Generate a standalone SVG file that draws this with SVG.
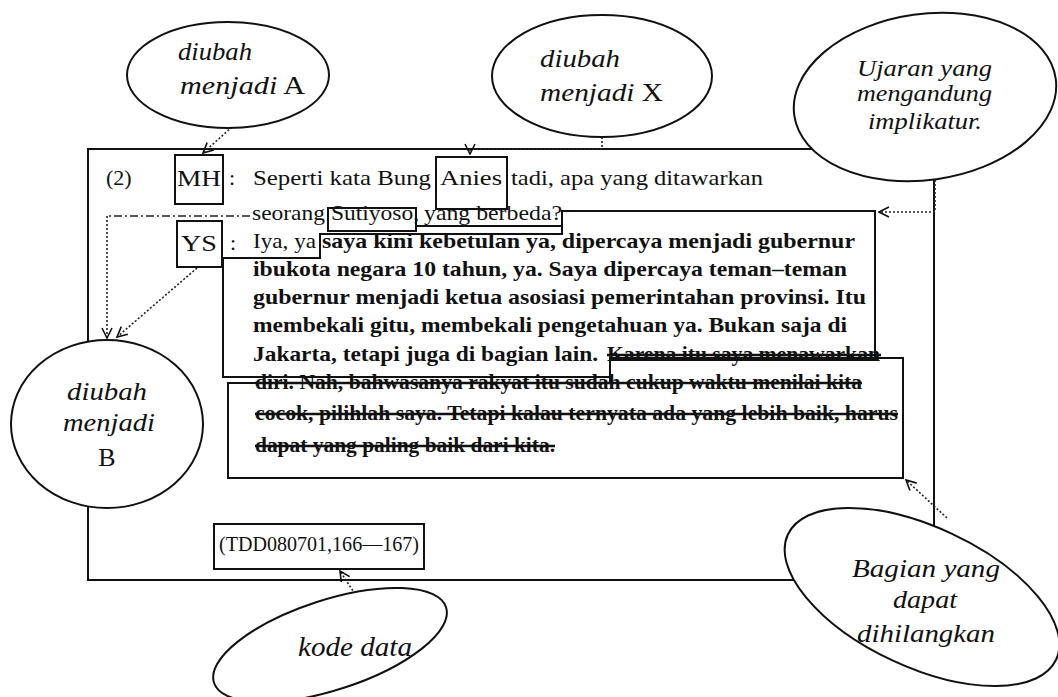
<svg xmlns="http://www.w3.org/2000/svg" width="1058" height="697" viewBox="0 0 1058 697">
<defs>
<style>
.ln{fill:none;stroke:#111;stroke-width:2}
.box{fill:none;stroke:#111;stroke-width:2}
.ell{fill:#fff;stroke:#111;stroke-width:2}
.con{fill:none;stroke:#222;stroke-width:1.6;stroke-dasharray:2 2}
.dd{fill:none;stroke:#222;stroke-width:1.6;stroke-dasharray:8 3 2 3}
.t{font-family:"Liberation Serif","Times New Roman",serif;fill:#111}
.r{font-size:22px}
.b{font-size:22px;font-weight:bold}
.s{font-size:21px;font-weight:bold}
.i{font-family:"Liberation Serif","Times New Roman",serif;font-style:italic;fill:#111}
.st{stroke:#111;stroke-width:2.6}
</style>
<marker id="ah" viewBox="0 0 12 12" refX="11" refY="6" markerWidth="12" markerHeight="12" markerUnits="userSpaceOnUse" orient="auto">
<path d="M1,1 L11,6 L1,11" fill="none" stroke="#111" stroke-width="1.6"/>
</marker>
</defs>
<rect width="1058" height="697" fill="#fff"/>

<g id="frame"><rect x="88" y="149" width="846" height="431" class="box"/></g>

<g id="mh-box"><rect x="175" y="155" width="48" height="49" class="box"/></g>
<g id="anies-box"><rect x="436" y="157" width="71" height="52" class="box"/></g>
<g id="sutiyoso-box"><rect x="328" y="208" width="88" height="23" class="box"/></g>
<g id="ys-box"><rect x="177" y="221" width="45" height="46" class="box"/></g>
<g id="implikatur-box"><path class="box" d="M223,377 V258 H320 V234 H562 V211 H875 V360 H610 V377 Z"/><path class="ln" d="M416,226 H562"/></g>
<g id="strike-box"><path class="box" d="M228,383 H610 V358 H903 V478 H228 Z"/></g>
<g id="code-box"><rect x="214" y="524" width="210" height="45" class="box"/>
<text class="t" x="219" y="551" font-size="22" textLength="200" lengthAdjust="spacingAndGlyphs">(TDD080701,166—167)</text></g>

<g id="transcript-text">
<text class="t r" x="106" y="185">(2)</text>
<text class="t" x="177" y="186" font-size="24" textLength="44" lengthAdjust="spacingAndGlyphs">MH</text>
<text class="t r" x="229" y="185">:</text>
<text class="t r" x="253" y="185" textLength="178" lengthAdjust="spacingAndGlyphs">Seperti kata Bung</text>
<text class="t r" x="440" y="185" textLength="62" lengthAdjust="spacingAndGlyphs">Anies</text>
<text class="t r" x="511" y="185" textLength="252" lengthAdjust="spacingAndGlyphs">tadi, apa yang ditawarkan</text>
<text class="t r" x="252" y="220" textLength="73" lengthAdjust="spacingAndGlyphs">seorang</text>
<text class="t r" x="331" y="220" textLength="88" lengthAdjust="spacingAndGlyphs">Sutiyoso,</text>
<text class="t r" x="424" y="220" textLength="138" lengthAdjust="spacingAndGlyphs">yang berbeda?</text>
<text class="t" x="181" y="251" font-size="24" textLength="36" lengthAdjust="spacingAndGlyphs">YS</text>
<text class="t r" x="230" y="250">:</text>
<text class="t r" x="253" y="248" textLength="63" lengthAdjust="spacingAndGlyphs">Iya, ya</text>
<text class="t b" x="322" y="248" textLength="533" lengthAdjust="spacingAndGlyphs">saya kini kebetulan ya, dipercaya menjadi gubernur</text>
<text class="t b" x="253" y="276" textLength="594" lengthAdjust="spacingAndGlyphs">ibukota negara 10 tahun, ya. Saya dipercaya teman–teman</text>
<text class="t b" x="253" y="304" textLength="613" lengthAdjust="spacingAndGlyphs">gubernur menjadi ketua asosiasi pemerintahan provinsi. Itu</text>
<text class="t b" x="253" y="332" textLength="594" lengthAdjust="spacingAndGlyphs">membekali gitu, membekali pengetahuan ya. Bukan saja di</text>
<text class="t b" x="253" y="361" textLength="345" lengthAdjust="spacingAndGlyphs">Jakarta, tetapi juga di bagian lain.</text>
<text class="t b" x="607" y="361" textLength="273" lengthAdjust="spacingAndGlyphs">Karena itu saya menawarkan</text>
<text class="t s" x="255" y="389" textLength="607" lengthAdjust="spacingAndGlyphs">diri. Nah, bahwasanya rakyat itu sudah cukup waktu menilai kita</text>
<text class="t s" x="255" y="420" textLength="643" lengthAdjust="spacingAndGlyphs">cocok, pilihlah saya. Tetapi kalau ternyata ada yang lebih baik, harus</text>
<text class="t s" x="255" y="452" textLength="300" lengthAdjust="spacingAndGlyphs">dapat yang paling baik dari kita.</text>
<line class="st" x1="607" y1="355" x2="881" y2="355"/>
<line class="st" x1="255" y1="383" x2="862" y2="383"/>
<line class="st" x1="255" y1="414" x2="898" y2="414"/>
<line class="st" x1="255" y1="446" x2="555" y2="446"/>
</g>

<g id="connectors">
<path class="con" d="M232,127 L203,153" marker-end="url(#ah)"/>
<path class="con" d="M602,137 V149 H470 V154" marker-end="url(#ah)"/>
<path class="dd" d="M250,216 H107"/>
<path class="con" d="M107,216 V338" marker-end="url(#ah)"/>
<path class="con" d="M197,268 L117,337" marker-end="url(#ah)"/>
<path class="con" d="M935,180 V212 H879" marker-end="url(#ah)"/>
<path class="con" d="M947,518 L906,480" marker-end="url(#ah)"/>
<path class="con" d="M355,594 L340,571" marker-end="url(#ah)"/>
</g>

<g id="node-a">
<ellipse class="ell" cx="228" cy="75" rx="101" ry="53"/>
<text class="i" x="178" y="60" font-size="26" textLength="74" lengthAdjust="spacingAndGlyphs">diubah</text>
<text class="i" x="180" y="94" font-size="26" textLength="125" lengthAdjust="spacingAndGlyphs">menjadi<tspan font-style="normal"> A</tspan></text>
</g>
<g id="node-x">
<ellipse class="ell" cx="602" cy="76" rx="110" ry="61"/>
<text class="i" x="540" y="67" font-size="26" textLength="80" lengthAdjust="spacingAndGlyphs">diubah</text>
<text class="i" x="540" y="101" font-size="26" textLength="123" lengthAdjust="spacingAndGlyphs">menjadi<tspan font-style="normal"> X</tspan></text>
</g>
<g id="node-b">
<ellipse class="ell" cx="107" cy="424" rx="96" ry="84"/>
<text class="i" x="67" y="400" font-size="26" textLength="80" lengthAdjust="spacingAndGlyphs">diubah</text>
<text class="i" x="63" y="431" font-size="26" textLength="92" lengthAdjust="spacingAndGlyphs">menjadi</text>
<text class="t" x="107" y="466" font-size="26" text-anchor="middle">B</text>
</g>
<g id="node-ujaran">
<ellipse class="ell" cx="925" cy="97" rx="132" ry="83" transform="rotate(-8 925 97)"/>
<text class="i" x="857" y="76" font-size="24" textLength="135" lengthAdjust="spacingAndGlyphs">Ujaran yang</text>
<text class="i" x="857" y="101" font-size="24" textLength="135" lengthAdjust="spacingAndGlyphs">mengandung</text>
<text class="i" x="868" y="129" font-size="24" textLength="114" lengthAdjust="spacingAndGlyphs">implikatur.</text>
</g>
<g id="node-bagian">
<ellipse class="ell" cx="922" cy="597" rx="148" ry="70" transform="rotate(25 922 597)"/>
<text class="i" x="852" y="577" font-size="26" textLength="148" lengthAdjust="spacingAndGlyphs">Bagian yang</text>
<text class="i" x="893" y="608" font-size="26" textLength="64" lengthAdjust="spacingAndGlyphs">dapat</text>
<text class="i" x="857" y="642" font-size="26" textLength="138" lengthAdjust="spacingAndGlyphs">dihilangkan</text>
</g>
<g id="node-kode">
<ellipse class="ell" cx="330" cy="645" rx="122" ry="45" transform="rotate(-18 330 645)"/>
<text class="i" x="298" y="656" font-size="27" textLength="114" lengthAdjust="spacingAndGlyphs">kode data</text>
</g>
</svg>
